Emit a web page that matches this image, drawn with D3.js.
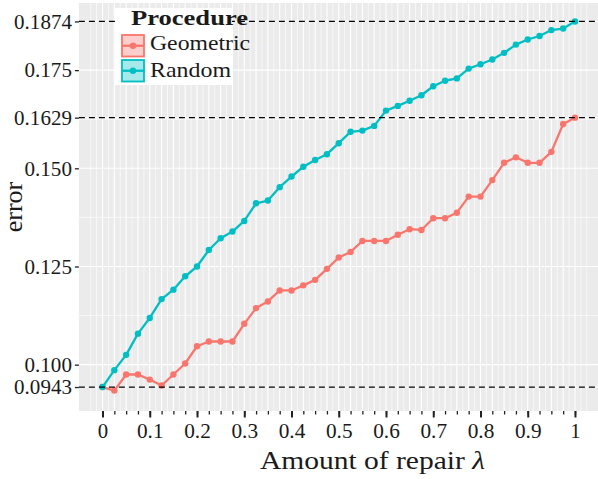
<!DOCTYPE html>
<html>
<head>
<meta charset="utf-8">
<script src="https://cdn.jsdelivr.net/npm/d3@7"></script>
<style>
  body { margin: 0; background: #fff; }
  svg text { font-family: "Liberation Serif", "Times New Roman", serif; fill: #1a1a1a; }
</style>
</head>
<body>
<svg id="chart" width="598" height="479"></svg>
<script>
// Amount of repair (lambda) at which each error was measured
const lambda = [0, 0.025, 0.05, 0.075, 0.1, 0.125, 0.15, 0.175, 0.2, 0.225,
  0.25, 0.275, 0.3, 0.325, 0.35, 0.375, 0.4, 0.425, 0.45, 0.475,
  0.5, 0.525, 0.55, 0.575, 0.6, 0.625, 0.65, 0.675, 0.7, 0.725,
  0.75, 0.775, 0.8, 0.825, 0.85, 0.875, 0.9, 0.925, 0.95, 0.975, 1];

// Error of each repair procedure
const geometric = [0.0943, 0.0934, 0.0975, 0.0975, 0.0962, 0.0947, 0.0975, 0.1003, 0.1047, 0.1059,
  0.1059, 0.1059, 0.1104, 0.1144, 0.1161, 0.1189, 0.1189, 0.1202, 0.1216, 0.1244,
  0.1273, 0.1287, 0.1315, 0.1315, 0.1315, 0.1331, 0.1345, 0.1343, 0.1373, 0.1373,
  0.1387, 0.1428, 0.1428, 0.1470, 0.1514, 0.1528, 0.1514, 0.1514, 0.1542, 0.1613, 0.1629];
const random = [0.0943, 0.0986, 0.1025, 0.1079, 0.1119, 0.1167, 0.1191, 0.1225, 0.1250, 0.1292,
  0.1322, 0.1339, 0.1366, 0.1411, 0.1418, 0.1452, 0.1479, 0.1504, 0.1521, 0.1536,
  0.1564, 0.1593, 0.1596, 0.1608, 0.1647, 0.1659, 0.1672, 0.1686, 0.1709, 0.1723,
  0.1729, 0.1754, 0.1765, 0.1777, 0.1794, 0.1815, 0.1828, 0.1837, 0.1852, 0.1856, 0.1874];

const procedures = ["Geometric", "Random"];
const colors = ["#F8766D", "#00BFC4"];

// Reference levels drawn as dashed lines
const refLines = [0.0943, 0.1629, 0.1874];

// Axis ticks
const xLabelTicks = [0, 0.1, 0.2, 0.3, 0.4, 0.5, 0.6, 0.7, 0.8, 0.9, 1];
const xTickLabels = ["0", "0.1", "0.2", "0.3", "0.4", "0.5", "0.6", "0.7", "0.8", "0.9", "1"];
const yTicks = [0.0943, 0.100, 0.125, 0.150, 0.1629, 0.175, 0.1874];
const yTickLabels = ["0.0943", "0.100", "0.125", "0.150", "0.1629", "0.175", "0.1874"];
const yMinorGrid = [0.1125, 0.1375, 0.1625, 0.1875];

const SERIF = '"Liberation Serif", "Times New Roman", serif';

// width of a numeric label set in a wide book face (digits 0.5em, point 0.28em)
const numWidth = s => s.split("").reduce((w, c) => w + (c === "." ? 5.8 : 10.4), 0);

const svg = d3.select("#chart");
const panel = { left: 78.9, right: 598.6, top: 3, bottom: 411 };

const x = d3.scaleLinear().domain([-0.05, 1.05]).range([panel.left, panel.right]);
const y = d3.scaleLinear().domain([0.0882, 0.1921]).range([panel.bottom, panel.top]);

// panel background
svg.append("rect")
  .attr("x", panel.left).attr("y", panel.top)
  .attr("width", panel.right - panel.left).attr("height", panel.bottom - panel.top)
  .attr("fill", "#EBEBEB");

const grid = svg.append("g").attr("stroke", "#fff");

// vertical grid: one major line per lambda value, minor lines half-way between
const xMinor = [-0.025, -0.0125].concat(lambda.slice(1).map((v, i) => (v + lambda[i]) / 2), [1.0125, 1.025]);
grid.selectAll(".vminor").data(xMinor).join("line")
  .attr("x1", d => x(d)).attr("x2", d => x(d))
  .attr("y1", panel.top).attr("y2", panel.bottom)
  .attr("stroke-width", 0.6);
grid.selectAll(".vmajor").data(lambda).join("line")
  .attr("x1", d => x(d)).attr("x2", d => x(d))
  .attr("y1", panel.top).attr("y2", panel.bottom)
  .attr("stroke-width", 1.1);

// horizontal grid
grid.selectAll(".hminor").data(yMinorGrid).join("line")
  .attr("x1", panel.left).attr("x2", panel.right)
  .attr("y1", d => y(d)).attr("y2", d => y(d))
  .attr("stroke-width", 0.6);
grid.selectAll(".hmajor").data(yTicks).join("line")
  .attr("x1", panel.left).attr("x2", panel.right)
  .attr("y1", d => y(d)).attr("y2", d => y(d))
  .attr("stroke-width", 1.1);

// series
const seriesData = [geometric, random];
const line = d3.line().x((d, i) => x(lambda[i])).y(d => y(d));
seriesData.forEach((vals, k) => {
  const g = svg.append("g");
  g.append("path").datum(vals)
    .attr("d", line)
    .attr("fill", "none")
    .attr("stroke", colors[k])
    .attr("stroke-width", 2.3)
    .attr("stroke-linejoin", "round");
  g.selectAll("circle").data(vals).join("circle")
    .attr("cx", (d, i) => x(lambda[i]))
    .attr("cy", d => y(d))
    .attr("r", 3.2)
    .attr("fill", colors[k]);
});

// dashed reference lines
svg.append("g").selectAll("line").data(refLines).join("line")
  .attr("x1", panel.left).attr("x2", panel.right)
  .attr("y1", d => y(d)).attr("y2", d => y(d))
  .attr("stroke", "#000")
  .attr("stroke-width", 1.3)
  .attr("stroke-dasharray", "6,4");

// x axis: long ticks on labelled values, short ticks at every lambda
const xAxisMinor = d3.axisBottom(x).tickValues(lambda).tickSize(3.5).tickFormat("");
const xAxisMajor = d3.axisBottom(x).tickValues(xLabelTicks).tickSize(6.5)
  .tickFormat((d, i) => xTickLabels[i]).tickPadding(6);
const gxMinor = svg.append("g").attr("transform", `translate(0,${panel.bottom})`).call(xAxisMinor);
const gxMajor = svg.append("g").attr("transform", `translate(0,${panel.bottom})`).call(xAxisMajor);
[gxMinor, gxMajor].forEach(g => {
  g.select(".domain").remove();
  g.selectAll(".tick line").attr("stroke", "#222").attr("stroke-width", 1.3);
});
gxMajor.selectAll(".tick line").attr("stroke-width", 2);
gxMajor.selectAll(".tick text")
  .style("font-family", SERIF)
  .style("font-size", "21px")
  .attr("fill", "#1a1a1a")
  .attr("textLength", (d, i) => numWidth(xTickLabels[i]))
  .attr("lengthAdjust", "spacingAndGlyphs");

// y axis
const yAxis = d3.axisLeft(y).tickValues(yTicks).tickSize(4)
  .tickFormat(d => yTickLabels[yTicks.indexOf(d)]).tickPadding(3);
const gy = svg.append("g").attr("transform", `translate(${panel.left},0)`).call(yAxis);
gy.select(".domain").remove();
gy.selectAll(".tick line").attr("stroke", "#222").attr("stroke-width", 1.3);
gy.selectAll(".tick text")
  .style("font-family", SERIF)
  .style("font-size", "21px")
  .attr("fill", "#1a1a1a")
  .attr("textLength", d => numWidth(yTickLabels[yTicks.indexOf(d)]))
  .attr("lengthAdjust", "spacingAndGlyphs");

// axis titles
const xTitle = svg.append("text")
  .attr("x", 260).attr("y", 469)
  .attr("text-anchor", "start")
  .style("font-family", SERIF)
  .style("font-size", "26px")
  .attr("textLength", 225)
  .attr("lengthAdjust", "spacingAndGlyphs");
xTitle.append("tspan").text("Amount of repair ");
xTitle.append("tspan").attr("font-style", "italic").text("λ");

svg.append("text")
  .attr("transform", "translate(22,207) rotate(-90)")
  .attr("text-anchor", "middle")
  .style("font-family", SERIF)
  .style("font-size", "26px")
  .text("error");

// legend
const legend = svg.append("g");
legend.append("rect")
  .attr("x", 115).attr("y", 8).attr("width", 117).attr("height", 77)
  .attr("fill", "#fff");
legend.append("text")
  .attr("x", 131).attr("y", 25)
  .style("font-family", SERIF)
  .style("font-size", "21px")
  .style("font-weight", "bold")
  .attr("textLength", 117)
  .attr("lengthAdjust", "spacingAndGlyphs")
  .text("Procedure");
const labelWidths = [100, 81];
const keyTops = [35, 60];
const labelBaselines = [49.5, 77];
procedures.forEach((name, k) => {
  const ky = keyTops[k];
  const key = legend.append("g");
  key.append("rect")
    .attr("x", 122).attr("y", ky).attr("width", 22).attr("height", 21.5)
    .attr("fill", colors[k]).attr("fill-opacity", 0.35)
    .attr("stroke", colors[k]).attr("stroke-width", 1.8);
  key.append("line")
    .attr("x1", 122).attr("x2", 144)
    .attr("y1", ky + 10.75).attr("y2", ky + 10.75)
    .attr("stroke", colors[k]).attr("stroke-width", 2.3);
  key.append("circle")
    .attr("cx", 133).attr("cy", ky + 10.75).attr("r", 3.2)
    .attr("fill", colors[k]);
  legend.append("text")
    .attr("x", 150).attr("y", labelBaselines[k])
    .style("font-family", SERIF)
    .style("font-size", "21px")
    .attr("textLength", labelWidths[k])
    .attr("lengthAdjust", "spacingAndGlyphs")
    .text(name);
});
</script>
</body>
</html>
